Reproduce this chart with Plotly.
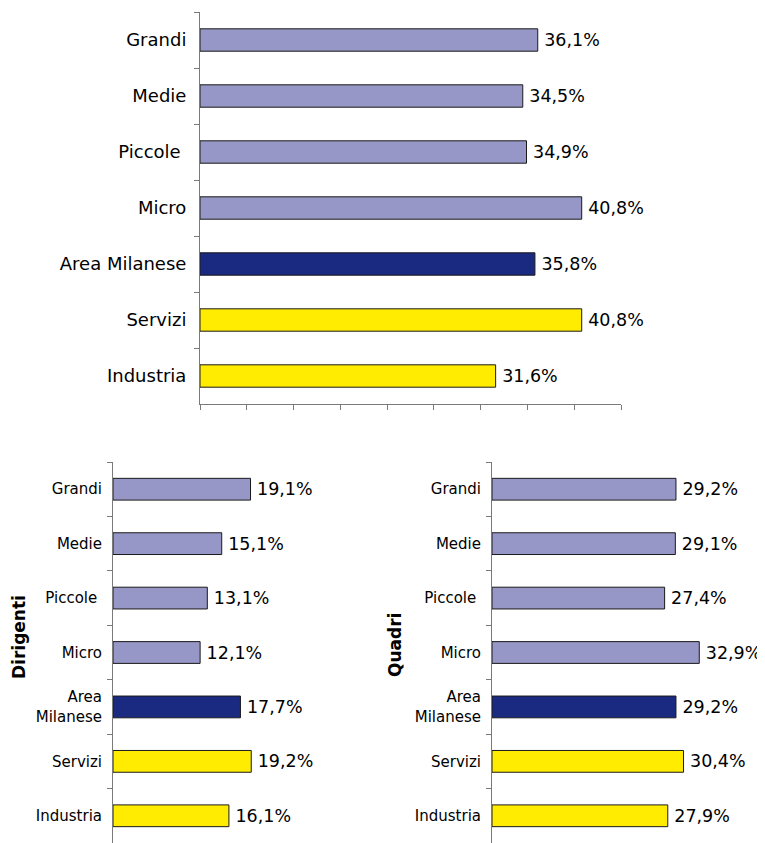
import plotly.graph_objects as go

# ---- data ----
categories_top = ["Grandi", "Medie", "Piccole\u00a0", "Micro", "Area Milanese", "Servizi", "Industria"]
categories_bottom = ["Grandi", "Medie", "Piccole\u00a0", "Micro", "Area<br>Milanese", "Servizi", "Industria"]
values_totale = [36.1, 34.5, 34.9, 40.8, 35.8, 40.8, 31.6]
values_dirigenti = [19.1, 15.1, 13.1, 12.1, 17.7, 19.2, 16.1]
values_quadri = [29.2, 29.1, 27.4, 32.9, 29.2, 30.4, 27.9]
title_dirigenti = "Dirigenti"
title_quadri = "Quadri"

LAV = "#9797C7"
NAVY = "#1A2A80"
YEL = "#FFEC00"
bar_colors = [LAV, LAV, LAV, LAV, NAVY, YEL, YEL]

FONT = "DejaVu Sans"
AXC = "#7a7a7a"
OFF = 8  # page body margin
W, H = 765, 843 - OFF


def px_x(p):
    return (p - OFF) / W


def px_y(p):
    return 1 - (p - OFF) / H


fig = go.Figure()

def add_bars(vals, cats, xa, ya, tsize):
    fig.add_trace(go.Bar(
        x=vals, y=cats, orientation="h", xaxis=xa, yaxis=ya,
        width=0.4,
        marker=dict(color=bar_colors, line=dict(color="#1a1a1a", width=1)),
        texttemplate="\u2009%{x:.1f}%", textposition="outside",
        constraintext="none", cliponaxis=False,
        textfont=dict(family=FONT, size=tsize, color="black"),
        hoverinfo="skip",
    ))

add_bars(values_totale, categories_top, "x", "y", 17.5)
add_bars(values_dirigenti, categories_bottom, "x2", "y2", 17.5)
add_bars(values_quadri, categories_bottom, "x3", "y3", 17.5)

common_y = dict(type="category", autorange="reversed", tickson="boundaries",
                ticks="outside", ticklen=5, tickcolor=AXC, showline=True,
                linecolor=AXC, linewidth=1, showgrid=False, zeroline=False,
                automargin=False, fixedrange=True)

fig.update_layout(
    width=W, height=H,
    margin=dict(l=0, r=0, t=0, b=0),
    paper_bgcolor="white", plot_bgcolor="white",
    separators=",.",
    showlegend=False,
    font=dict(family=FONT, color="black"),
    xaxis=dict(domain=[px_x(200), px_x(621)], anchor="y", range=[0, 45], dtick=5,
               ticks="outside", ticklen=5, tickcolor=AXC, showline=True, linecolor=AXC,
               showgrid=False, zeroline=False, showticklabels=False, automargin=False,
               fixedrange=True),
    yaxis=dict(domain=[px_y(404), px_y(12)], anchor="x",
               tickfont=dict(family=FONT, size=18, color="black"),
               ticklabelstandoff=9, **common_y),
    xaxis2=dict(domain=[px_x(113), px_x(365)], anchor="y2", range=[0, 35], visible=False,
                fixedrange=True),
    yaxis2=dict(domain=[0, px_y(462)], anchor="x2",
                tickfont=dict(family=FONT, size=15, color="black"),
                ticklabelstandoff=7, **common_y),
    xaxis3=dict(domain=[px_x(492), px_x(744)], anchor="y3", range=[0, 40], visible=False,
                fixedrange=True),
    yaxis3=dict(domain=[0, px_y(462)], anchor="x3",
                tickfont=dict(family=FONT, size=15, color="black"),
                ticklabelstandoff=7, **common_y),
)

fig.add_annotation(text="<b>" + title_dirigenti + "</b>", xref="paper", yref="paper",
                   x=px_x(19), y=px_y(637), textangle=-90, showarrow=False,
                   font=dict(family=FONT, size=17, color="black"),
                   xanchor="center", yanchor="middle")
fig.add_annotation(text="<b>" + title_quadri + "</b>", xref="paper", yref="paper",
                   x=px_x(395), y=px_y(645), textangle=-90, showarrow=False,
                   font=dict(family=FONT, size=17, color="black"),
                   xanchor="center", yanchor="middle")

fig.write_html("out.html")
